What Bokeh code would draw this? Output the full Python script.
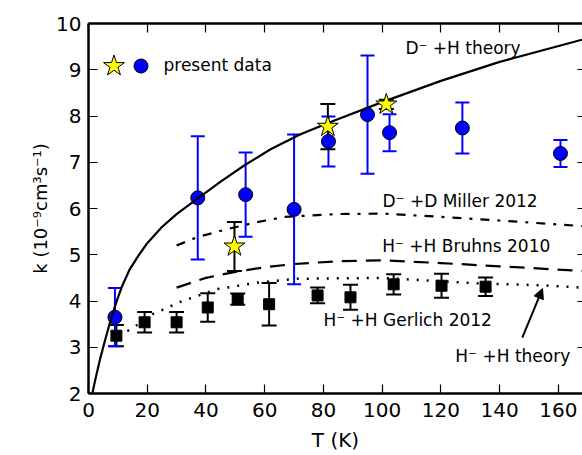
from bokeh.plotting import figure
from bokeh.models import (ColumnDataSource, Whisker, TeeHead, Label, Arrow, NormalHead,
                          LinearAxis, FixedTicker, Range1d, Legend, LegendItem)
from bokeh.embed import file_html
from bokeh.resources import INLINE

# ---------------- data ----------------
present_T = [9.0, 37.2, 53.5, 70.0, 81.7, 95.0, 102.5, 127.3, 160.7]
present_k = [3.65, 6.23, 6.30, 5.98, 7.45, 8.03, 7.64, 7.74, 7.19]
present_err = [0.63, 1.33, 0.91, 1.62, 0.54, 1.28, 0.40, 0.55, 0.29]

star_T = [49.7, 81.5, 101.4]
star_k = [5.18, 7.77, 8.25]
star_err = [0.53, 0.49, 0.10]

gerlich_T = [9.5, 19.1, 30.0, 40.6, 50.8, 61.5, 78.0, 89.2, 103.9, 120.2, 135.2]
gerlich_k = [3.25, 3.54, 3.54, 3.86, 4.04, 3.93, 4.12, 4.08, 4.36, 4.33, 4.31]
gerlich_err = [0.23, 0.22, 0.22, 0.31, 0.12, 0.46, 0.17, 0.27, 0.22, 0.26, 0.20]

dh_theory_T = [1.3, 2.5, 4, 5.5, 7.5, 9.5, 11.5, 14, 17, 20, 25, 30, 37, 45, 53, 62, 72, 82,
               100, 120, 140, 168]
dh_theory_k = [2.0, 2.35, 2.76, 3.12, 3.58, 3.98, 4.33, 4.68, 4.98, 5.25, 5.6, 5.88, 6.21,
               6.58, 6.93, 7.28, 7.6, 7.86, 8.3, 8.76, 9.17, 9.65]

miller_T = [30, 37, 47, 57, 67, 85, 100, 120, 140, 168]
miller_k = [5.20, 5.38, 5.55, 5.70, 5.82, 5.88, 5.89, 5.82, 5.74, 5.62]

bruhns_T = [30, 40, 50, 60, 70, 85, 100, 120, 140, 168]
bruhns_k = [4.29, 4.50, 4.63, 4.73, 4.80, 4.86, 4.88, 4.82, 4.75, 4.65]

hh_theory_T = [10, 13.5, 17, 22, 32, 44, 58, 71, 100, 133, 154, 168]
hh_theory_k = [3.28, 3.36, 3.5, 3.72, 4.0, 4.26, 4.4, 4.48, 4.5, 4.38, 4.34, 4.29]

x_ticks = [0, 20, 40, 60, 80, 100, 120, 140, 160]
y_ticks = [2, 3, 4, 5, 6, 7, 8, 9, 10]

ann_text = ["D\u207b +H theory", "D\u207b +D Miller 2012", "H\u207b +H Bruhns 2010",
            "H\u207b +H Gerlich 2012", "H\u207b +H theory"]
ann_x = [107.9, 100.1, 100.0, 80.0, 124.9]
ann_y = [9.46, 6.17, 5.18, 3.60, 2.82]

arrow_from = (147.7, 3.21)
arrow_to = (154.6, 4.27)

FONT = "DejaVu Sans"

# ---------------- figure ----------------
p = figure(width=582, height=455, x_range=Range1d(0, 168.2), y_range=Range1d(2, 10),
           output_backend="svg", toolbar_location=None,
           min_border_left=88, min_border_right=0, min_border_top=23, min_border_bottom=62)
p.outline_line_color = None
p.xgrid.visible = False
p.ygrid.visible = False
p.background_fill_color = "white"

for ax in (p.xaxis[0], p.yaxis[0]):
    ax.axis_line_width = 2.5
    ax.axis_line_color = "black"
    ax.major_tick_in = 9
    ax.major_tick_out = 0
    ax.major_tick_line_width = 1.2
    ax.minor_tick_line_color = None
    ax.major_label_text_font = FONT
    ax.major_label_text_font_size = "20px"
    ax.major_label_text_color = "black"
    ax.axis_label_text_font = FONT
    ax.axis_label_text_font_style = "normal"
    ax.axis_label_text_color = "black"
p.xaxis[0].ticker = FixedTicker(ticks=x_ticks)
p.yaxis[0].ticker = FixedTicker(ticks=y_ticks)
p.xaxis[0].major_label_standoff = 9
p.yaxis[0].major_label_standoff = 7
p.xaxis[0].axis_label = "T (K)"
p.xaxis[0].axis_label_text_font_size = "20px"
p.xaxis[0].axis_label_standoff = 8
p.yaxis[0].axis_label = "k (10\u207b\u2079cm\u00b3s\u207b\u00b9)"
p.yaxis[0].axis_label_text_font_size = "18px"
p.yaxis[0].axis_label_standoff = 2

top = LinearAxis(ticker=FixedTicker(ticks=x_ticks), axis_line_width=2.5, major_tick_in=9,
                 major_tick_out=0, major_tick_line_width=1.2, minor_tick_line_color=None,
                 major_label_overrides={t: "" for t in x_ticks}, major_label_standoff=0,
                 major_label_text_font_size="10px")
p.add_layout(top, "above")
right = LinearAxis(ticker=FixedTicker(ticks=y_ticks), axis_line_color=None, major_tick_in=5,
                   major_tick_out=0, major_tick_line_width=1.2, minor_tick_line_color=None,
                   major_label_overrides={t: "" for t in y_ticks}, major_label_standoff=0,
                   major_label_text_font_size="10px")
p.add_layout(right, "right")

# error bars
src_p = ColumnDataSource(dict(x=present_T, y=present_k,
                              lo=[a - b for a, b in zip(present_k, present_err)],
                              hi=[a + b for a, b in zip(present_k, present_err)]))
src_s = ColumnDataSource(dict(x=star_T, y=star_k,
                              lo=[a - b for a, b in zip(star_k, star_err)],
                              hi=[a + b for a, b in zip(star_k, star_err)]))
src_g = ColumnDataSource(dict(x=gerlich_T, y=gerlich_k,
                              lo=[a - b for a, b in zip(gerlich_k, gerlich_err)],
                              hi=[a + b for a, b in zip(gerlich_k, gerlich_err)]))

def whisk(src, color, cap):
    return Whisker(base="x", lower="lo", upper="hi", source=src, dimension="height",
                   line_color=color, line_width=2,
                   upper_head=TeeHead(size=cap, line_color=color, line_width=2),
                   lower_head=TeeHead(size=cap, line_color=color, line_width=2))

p.add_layout(whisk(src_g, "black", 15))
p.add_layout(whisk(src_p, "blue", 14))
p.add_layout(whisk(src_s, "black", 15))

circ = p.scatter("x", "y", source=src_p, marker="circle", size=14, fill_color="blue",
                 line_color="black", line_width=1)
p.scatter("x", "y", source=src_g, marker="square", size=11, fill_color="black",
          line_color="black")

p.line(dh_theory_T, dh_theory_k, line_color="black", line_width=2.2)
p.line(miller_T, miller_k, line_color="black", line_width=2.2, line_dash="9 8 3 8")
p.line(bruhns_T, bruhns_k, line_color="black", line_width=2.2, line_dash="15 9")
p.line(hh_theory_T, hh_theory_k, line_color="black", line_width=2.5, line_dash="2 8")

star = p.scatter("x", "y", source=src_s, marker="star", size=22, fill_color="yellow",
                 line_color="black", line_width=1)

# annotations
for t, x, y in zip(ann_text, ann_x, ann_y):
    p.add_layout(Label(x=x, y=y, text=t, text_font=FONT, text_font_size="17px",
                       text_baseline="middle", text_align="left", text_color="black"))

p.add_layout(Arrow(x_start=arrow_from[0], y_start=arrow_from[1], x_end=arrow_to[0],
                   y_end=arrow_to[1], line_width=2, line_color="black",
                   end=NormalHead(size=10, fill_color="black", line_color="black")))

# legend (location = bottom-left corner of the legend box, from frame bottom-left)
leg1 = Legend(items=[LegendItem(label=" ", renderers=[star])], location=(-2.5, 300.5),
              glyph_width=55, glyph_height=55, padding=0, margin=0, label_width=0,
              label_standoff=0, background_fill_alpha=0, border_line_color=None,
              label_text_font_size="10px")
leg2 = Legend(items=[LegendItem(label="present data", renderers=[circ])],
              location=(34.5, 310.5), glyph_width=35, glyph_height=35, padding=0, margin=0,
              label_standoff=6, background_fill_alpha=0, border_line_color=None,
              label_text_font=FONT, label_text_font_size="17px",
              label_text_color="black", label_text_baseline="middle")
p.add_layout(leg1)
p.add_layout(leg2)

open("out.html", "w").write(file_html(p, INLINE))
